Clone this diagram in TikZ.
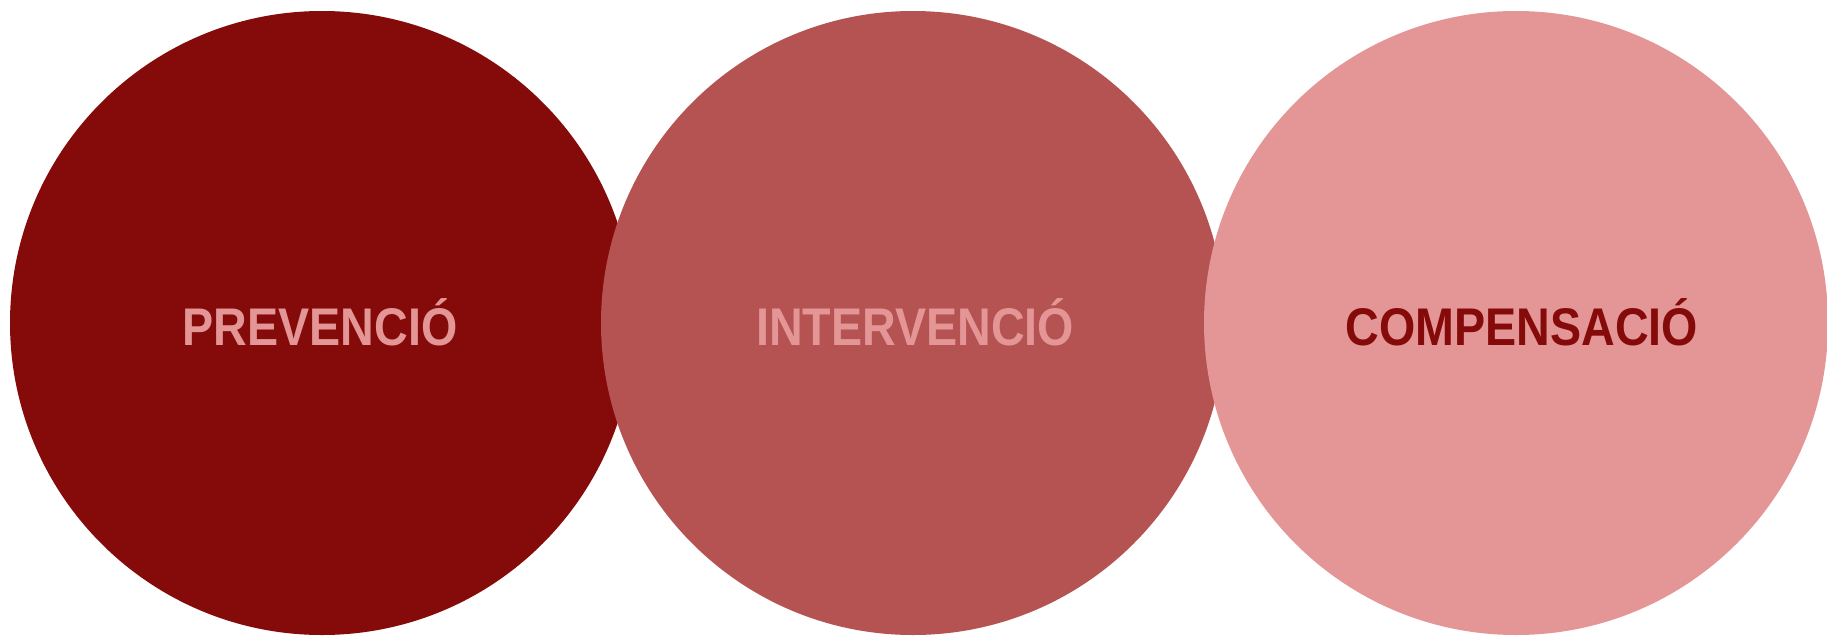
\documentclass[tikz,border=0pt]{standalone}
\usepackage{fontspec}
\setmainfont{Liberation Sans}
\definecolor{cA}{RGB}{133,10,10}
\definecolor{cB}{RGB}{181,82,82}
\definecolor{cC}{RGB}{228,149,149}
\begin{document}
\begin{tikzpicture}[x=1pt,y=-1pt,
  disc/.style={circle, minimum size=624pt, inner sep=0pt, draw=none},
  lbl/.style={font=\fontsize{53}{56}\selectfont\bfseries, xscale=0.88}]
\useasboundingbox (0,0) rectangle (1827,637);
\fill[white] (0,0) rectangle (1827,637);
\node[disc, fill=cA] (c1) at (322,323) {};
\node[disc, fill=cB] (c2) at (913,323) {};
\node[disc, fill=cC] (c3) at (1516,323) {};
\node[lbl, text=cC] (t1) at (320,322) {PREVENCIÓ};
\node[lbl, text=cC] (t2) at (915,322) {INTERVENCIÓ};
\node[lbl, text=cA] (t3) at (1522,322) {COMPENSACIÓ};
\end{tikzpicture}
\end{document}
